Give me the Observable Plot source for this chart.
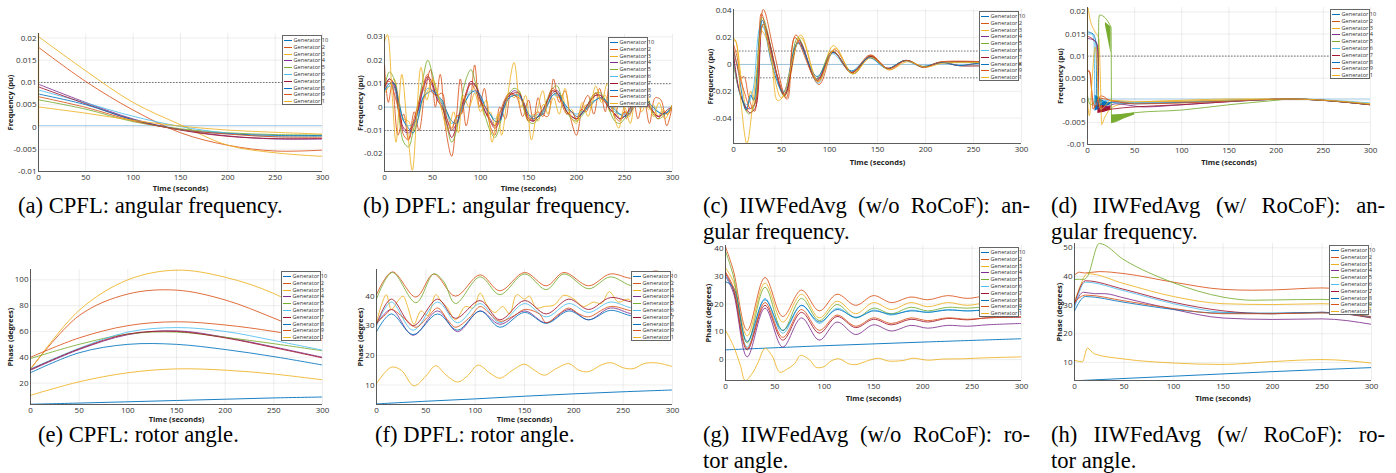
<!DOCTYPE html>
<html><head><meta charset="utf-8">
<script src="https://cdn.jsdelivr.net/npm/d3@7"></script>
<script src="https://cdn.jsdelivr.net/npm/@observablehq/plot@0.6"></script>
<style>
body{margin:0;background:#fff;}
#root{position:relative;width:1396px;height:473px;overflow:hidden;background:#fff;}
.p{position:absolute;}
.cap{position:absolute;font-family:"Liberation Serif","Times New Roman",serif;font-size:22.6px;line-height:22.6px;color:#000;white-space:nowrap;}
.just{text-align:justify;text-align-last:justify;}
.leg{position:absolute;background:#fff;border:0.8px solid #666;box-sizing:border-box;padding:1px 1px 0 1px;font-family:"Open Sans",sans-serif;font-size:5.6px;color:#333;}
.leg div{height:6.8px;line-height:6.8px;white-space:nowrap;}
.leg span.sw{display:inline-block;width:8px;height:0;border-top:1.2px solid;vertical-align:middle;margin-right:1.5px;}
</style></head><body><div id="root"></div>
<script>
// ---------- shared labels ----------
const genLabels = ["Generator 10","Generator 2","Generator 3","Generator 4","Generator 5","Generator 6","Generator 7","Generator 8","Generator 9","Generator 1"];
const genColors = ["#0072BD","#D95319","#EDB120","#7E2F8E","#77AC30","#4DBEEE","#A2142F","#0072BD","#D95319","#EDB120"];
const timeTicks = [0,50,100,150,200,250,300];

// ---------- (a) CPFL angular frequency ----------
const cpflT = [0,50,100,150,200,250,300];
const cpflFreq = [
 [0.0003,0.0003,0.0003,0.0003,0.0003,0.0003,0.0003],
 [0.0179,0.0102,0.0038,-0.0013,-0.0041,-0.0054,-0.0052],
 [0.0203,0.0126,0.0055,0.0005,-0.0041,-0.0058,-0.0066],
 [0.0096,0.0055,0.0018,-0.0006,-0.0020,-0.0027,-0.0027],
 [0.0061,0.0040,0.0012,-0.0004,-0.0013,-0.0017,-0.0018],
 [0.0083,0.0054,0.0024,0.0001,-0.0014,-0.0022,-0.0021],
 [0.0090,0.0052,0.0016,-0.0007,-0.0021,-0.0026,-0.0026],
 [0.0074,0.0050,0.0016,-0.0006,-0.0015,-0.0019,-0.0019],
 [0.0068,0.0044,0.0014,-0.0006,-0.0016,-0.0022,-0.0023],
 [0.0045,0.0031,0.0015,0.0002,-0.0007,-0.0012,-0.0016]
];
const cpflFreqJump = [{g:2, t:0, lo:0, hi:0.021}];
const cpflFreqTicks = [-0.01,-0.005,0,0.005,0.01,0.015,0.02];

// ---------- (b) DPFL angular frequency ----------
const dpflT = [0,5,10,15,20,25,30,35,40,45,50,55,60,65,70,75,80,85,90,95,100,105,110,115,120,125,130,135,140,145,150,155,160,165,170,175,180,185,190,195,200,205,210,215,220,225,230,235,240,245,250,255,260,265,270,275,280,285,290,295,300];
const dpflFreq = [
 [[0,0],[300,0]],
 [[0,0.018],[4,0.002],[8,0.01],[14,-0.012],[20,-0.003],[25,-0.014],[31,-0.002],[36,-0.01],[42,0.006],[48,0.016],[53,0.0],[58,0.014],[64,-0.01],[70,-0.021],[75,-0.004],[79,0.012],[85,-0.008],[90,0.004],[94,0.018],[99,0.0],[104,0.008],[110,-0.008],[115,-0.012],[120,0.0],[126,-0.005],[132,0.006],[138,0.004],[144,-0.004],[150,0.003],[155,-0.006],[160,0.004],[165,-0.003],[170,-0.004],[176,0.012],[182,0.002],[188,0.007],[194,-0.005],[200,-0.012],[206,0.0],[212,0.005],[218,-0.003],[224,0.008],[230,-0.002],[234,0.009],[240,-0.004],[246,0.006],[252,-0.005],[258,0.007],[264,-0.005],[270,0.004],[276,-0.007],[282,0.004],[288,0.003],[294,-0.008],[300,0.001]],
 [0.006,0.009,0.012,0.003,-0.005,-0.006,-0.010,-0.005,0.003,0.007,0.011,0.006,-0.001,-0.002,-0.010,-0.004,-0.003,0.005,0.006,0.010,0.003,-0.004,-0.002,-0.008,-0.002,0.000,0.006,0.004,0.007,-0.001,-0.006,-0.003,-0.006,0.001,0.001,0.007,0.004,0.005,-0.003,-0.001,-0.006,-0.002,0.001,0.000,0.006,0.003,0.005,-0.002,0.000,-0.005,-0.002,-0.004,0.002,0.002,0.005,-0.001,0.001,-0.004,-0.001,-0.003,0.001],
 [0.009,0.012,0.009,-0.002,-0.010,-0.011,-0.008,-0.002,0.007,0.012,0.009,0.004,0.001,-0.005,-0.010,-0.007,-0.001,0.005,0.010,0.009,0.004,-0.002,-0.005,-0.008,-0.005,0.001,0.005,0.007,0.006,0.001,-0.004,-0.006,-0.004,-0.002,0.003,0.006,0.007,0.003,-0.002,-0.004,-0.005,-0.003,0.000,0.003,0.005,0.005,0.003,-0.001,-0.003,-0.005,-0.004,-0.002,0.001,0.004,0.004,0.001,-0.002,-0.004,-0.003,-0.002,0.000],
 [0.008,0.015,0.012,-0.004,-0.015,-0.017,-0.010,0.000,0.012,0.020,0.014,0.005,0.002,-0.008,-0.015,-0.010,0.003,0.012,0.016,0.010,0.003,-0.004,-0.010,-0.013,-0.008,0.002,0.006,0.008,0.007,0.000,-0.006,-0.007,-0.005,-0.002,0.004,0.008,0.009,0.003,-0.002,-0.005,-0.006,-0.004,-0.001,0.004,0.006,0.006,0.003,-0.002,-0.006,-0.007,-0.005,-0.002,0.003,0.006,0.005,0.002,-0.003,-0.005,-0.004,-0.002,0.001],
 [0.007,0.009,0.008,0.001,-0.006,-0.008,-0.007,-0.003,0.004,0.008,0.007,0.004,0.002,-0.003,-0.007,-0.005,-0.001,0.003,0.007,0.006,0.004,0.000,-0.003,-0.005,-0.004,0.001,0.004,0.005,0.005,0.001,-0.003,-0.004,-0.003,-0.002,0.002,0.005,0.005,0.003,-0.001,-0.002,-0.003,-0.002,-0.001,0.002,0.003,0.004,0.003,0.000,-0.002,-0.003,-0.003,-0.002,0.001,0.002,0.003,0.001,-0.001,-0.002,-0.003,-0.002,0.000],
 [0.008,0.012,0.010,0.000,-0.009,-0.010,-0.007,-0.001,0.008,0.013,0.010,0.003,0.000,-0.007,-0.013,-0.008,0.000,0.006,0.011,0.009,0.003,-0.002,-0.006,-0.009,-0.006,0.002,0.005,0.006,0.006,0.001,-0.005,-0.006,-0.004,-0.001,0.003,0.007,0.006,0.002,-0.002,-0.004,-0.005,-0.003,0.000,0.003,0.005,0.005,0.002,-0.001,-0.003,-0.005,-0.004,-0.001,0.002,0.004,0.003,0.001,-0.002,-0.004,-0.003,-0.001,0.000],
 [0.007,0.010,0.010,0.002,-0.006,-0.009,-0.011,-0.005,0.004,0.006,0.007,0.005,0.003,-0.002,-0.006,-0.007,-0.002,0.003,0.006,0.007,0.005,0.000,-0.003,-0.006,-0.006,0.000,0.004,0.005,0.005,0.002,-0.003,-0.005,-0.004,-0.003,0.001,0.005,0.006,0.003,0.000,-0.002,-0.004,-0.003,-0.001,0.001,0.003,0.004,0.003,0.001,-0.001,-0.003,-0.004,-0.003,0.000,0.002,0.003,0.002,0.000,-0.002,-0.003,-0.002,0.000],
 [0.010,0.011,0.006,-0.002,-0.012,-0.014,-0.006,0.001,0.009,0.014,0.006,0.005,0.006,-0.005,-0.009,-0.004,-0.003,0.006,0.010,0.007,0.002,0.000,-0.006,-0.008,-0.003,0.003,0.006,0.005,0.004,0.002,-0.006,-0.004,-0.002,-0.004,0.003,0.008,0.006,0.001,-0.003,-0.002,-0.005,-0.001,-0.002,0.003,0.006,0.004,0.002,0.001,-0.004,-0.006,-0.002,-0.003,0.002,0.005,0.003,0.000,-0.002,-0.005,-0.002,-0.003,0.001],
 [[0,0.028],[3,0.031],[8,0.005],[12,-0.015],[18,0.014],[24,-0.01],[29,-0.027],[34,0.0],[38,0.017],[44,0.003],[50,0.012],[56,0.005],[60,-0.002],[66,-0.01],[72,-0.002],[77,-0.011],[82,0.005],[88,0.0],[94,0.006],[100,-0.002],[106,0.003],[112,-0.015],[118,-0.003],[122,-0.012],[128,0.004],[135,0.019],[142,0.0],[147,0.005],[153,-0.014],[158,-0.004],[165,0.007],[170,-0.003],[176,0.004],[182,-0.003],[188,0.008],[194,-0.004],[200,-0.007],[206,0.002],[212,-0.004],[220,0.009],[226,0.002],[232,0.01],[238,-0.002],[244,-0.009],[250,0.0],[256,-0.007],[262,0.005],[268,-0.002],[274,0.004],[280,-0.004],[286,0.002],[292,-0.005],[300,0.001]]
];
const dpflFreqTicks = [-0.02,-0.01,0,0.01,0.02,0.03];

// ---------- (c) IIWFedAvg w/o RoCoF angular frequency ----------
const fedFreq = [
 [[0,0],[300,0]],
 [[0,0.015],[4,0.005],[8,-0.01],[11,-0.009],[16,-0.025],[22,-0.035],[31,0.041],[42,0.01],[55,-0.025],[65,0.022],[89,-0.015],[105,0.011],[125,-0.007],[143,0.007],[162,-0.004],[180,0.003],[198,-0.002],[217,0.002],[236,-0.001],[256,0.001],[300,0.0005]],
 [[0,0.02],[3,0.016],[8,-0.01],[14,-0.035],[18,-0.02],[22,-0.028],[29,0.025],[38,0.012],[46,-0.027],[55,-0.02],[70,0.022],[88,-0.012],[104,0.014],[124,-0.006],[143,0.006],[161,-0.003],[180,0.003],[198,-0.0015],[217,0.0015],[236,-0.001],[300,0.0005]],
 [[0,0.005],[6,-0.02],[15,-0.033],[22,-0.03],[31,0.03],[53,-0.022],[68,0.018],[87,-0.011],[104,0.009],[123,-0.006],[142,0.006],[160,-0.003],[179,0.003],[197,-0.002],[216,0.0015],[236,-0.001],[300,0.0004]],
 [[0,0.0],[6,-0.02],[16,-0.037],[22,-0.03],[30,0.035],[53,-0.024],[67,0.02],[86,-0.011],[103,0.01],[124,-0.007],[142,0.006],[160,-0.003],[179,0.003],[197,-0.002],[216,0.0015],[300,0.0005]],
 [[0,0.005],[8,-0.025],[14,-0.03],[20,-0.02],[29,0.03],[52,-0.02],[68,0.016],[88,-0.014],[103,0.008],[122,-0.005],[141,0.005],[160,-0.003],[178,0.0025],[197,-0.0015],[216,0.001],[300,0.0003]],
 [[0,0.008],[7,-0.022],[17,-0.036],[23,-0.032],[31,0.03],[53,-0.023],[68,0.017],[87,-0.012],[104,0.009],[123,-0.006],[143,0.006],[161,-0.003],[180,0.003],[198,-0.002],[217,0.0015],[300,0.0005]],
 [[0,0.01],[4,-0.001],[13,-0.034],[18,-0.023],[21,-0.027],[30,0.033],[40,0.0],[52,-0.021],[67,0.016],[87,-0.009],[104,0.009],[123,-0.005],[142,0.005],[160,-0.003],[179,0.003],[197,-0.0015],[216,0.0015],[235,-0.0008],[255,0.0008],[300,0.0003]],
 [[0,0.012],[5,-0.005],[11,-0.02],[18,-0.033],[24,-0.025],[29,0.038],[40,0.005],[56,-0.026],[64,0.02],[88,-0.013],[103,0.01],[123,-0.006],[142,0.007],[161,-0.003],[180,0.003],[198,-0.002],[217,0.002],[300,0.0005]],
 [[0,0.017],[2,0.018],[8,-0.03],[14,-0.059],[20,-0.03],[24,-0.005],[31,0.03],[38,0.008],[50,-0.025],[70,0.02],[88,-0.013],[106,0.012],[124,-0.007],[143,0.005],[162,-0.004],[181,0.002],[200,-0.002],[219,0.001],[300,0.0005]]
];
const fedFreqTicks = [-0.04,-0.02,0,0.02,0.04];

// ---------- (d) IIWFedAvg w/ RoCoF angular frequency ----------
const rocofFreq = [
 [[0,0.0003],[300,0.0003]],
 [[0,0.0065],[2,0.0065],[4,0.003],[6,-0.002],[10,0.0],[15,0.001],[25,-0.0002],[50,-0.0005],[100,-0.0003],[150,0.0],[215,0.0003],[250,0.0],[300,-0.001]],
 [[0,0.0],[0,0.021],[3,0.018],[8,0.0155],[12,0.014],[14,0.002],[15,-0.0055],[18,-0.004],[22,-0.0025],[30,-0.0012],[50,-0.0005],[100,0.0],[150,0.0003],[215,0.0003],[250,0.0],[300,-0.0008]],
 [[0,0.014],[8,0.0135],[11,0.012],[12,-0.002],[20,-0.0015],[30,-0.0008],[60,-0.0015],[100,-0.001],[150,-0.0003],[215,0.0003],[260,-0.0002],[300,-0.001]],
 [[0,0.001],[3,-0.001],[8,0.0],[11,0.001],[12,0.0185],[13,0.0193],[25,0.0165],[25.5,-0.005],[50,-0.0028],[100,-0.0022],[150,-0.001],[200,0.0],[215,0.0003],[250,0.0],[300,-0.001]],
 [[0,0.015],[5,0.015],[7,0.013],[8,-0.001],[20,0.0],[50,-0.0005],[100,-0.0004],[150,0.0],[215,0.0003],[300,-0.0006]],
 [[0,0.0145],[9,0.013],[11,0.011],[12,-0.0025],[25,-0.002],[50,-0.0015],[100,-0.001],[150,-0.0003],[215,0.0003],[300,-0.001]],
 [[0,0.0155],[6,0.015],[9,0.013],[10,-0.002],[14,-0.001],[25,-0.0005],[50,-0.0008],[100,-0.0005],[150,-0.0002],[215,0.0003],[250,0.0],[300,-0.001]],
 [[0,0.007],[3,0.006],[5,0.001],[8,-0.0015],[12,0.0005],[25,0.0],[50,-0.0008],[100,-0.0006],[150,-0.0002],[215,0.0003],[300,-0.001]],
 [[0,0.0],[2,-0.0035],[5,0.005],[8,0.012],[10,0.009],[12,0.0],[14,-0.002],[25,0.0],[50,-0.0003],[100,-0.0002],[215,0.0003],[300,-0.0008]]
];
const rocofFreqBands = [
 {g:7, pts:[[8,-0.0025,0.0012],[12,-0.002,0.0005],[18,-0.0015,-0.0002],[25,-0.001,-0.0006]]},
 {g:6, pts:[[11,-0.003,-0.001],[18,-0.0027,-0.0013],[25,-0.0022,-0.0014]]},
 {g:4, pts:[[25.5,-0.0053,-0.0033],[35,-0.0045,-0.0032],[50,-0.0033,-0.0028]]},
 {g:4, pts:[[19,0.017,0.0176],[25,0.0105,0.0166]]}
];
const rocofFreqTicks = [-0.01,-0.005,0,0.005,0.01,0.015,0.02];

// ---------- (e) CPFL rotor angle ----------
const cpflAngle = [
 [3.6,4.5,5.5,6.5,7.5,8.5,9.2],
 [31,72.3,89,92,84.4,70.3,54.2],
 [30.5,76.4,100,107.5,102,89.4,68.5],
 [30,46,57.5,60.5,55.5,48,40],
 [39,50,58,59.5,55.5,50.5,45],
 [31,47,59.5,63,60,53,45.5],
 [30.5,46.5,58,60,55,47.5,39.5],
 [28,43.5,50,50,46,40.5,34],
 [40,55,64.5,67.5,65,60,53],
 [10.5,21,28,31,30,27,22.5]
];
const cpflAngleTicks = [20,40,60,80,100];

// ---------- (f) DPFL rotor angle ----------
const dpflAngle = [
 [[0,3.6],[50,4.5],[100,5.3],[150,6.2],[200,7],[250,7.7],[300,8.3]],
 [[0,40.5],[16,48.2],[40,39.7],[58,47.5],[80,40],[105,47.2],[125,41.8],[150,48],[172,43.5],[190,48],[215,43.5],[237,47.5],[260,46],[283,48.5],[300,46.5]],
 [[0,31],[5,37],[10,40.5],[15,35.5],[22,38.5],[27,40],[32,36],[38,30.5],[45,35],[52,33.5],[60,40.5],[66,38],[72,36],[80,32],[90,36.5],[98,36],[105,41],[112,37],[120,34.5],[128,36.5],[135,34],[142,40.5],[150,39],[155,40],[162,36],[170,36.5],[180,37],[190,40.3],[200,39],[210,36.5],[220,38],[228,37.5],[236,41.5],[245,38],[255,39],[265,36.5],[280,38],[290,38.5],[300,38]],
 [[0,30.5],[15,35.5],[37,26.8],[62,35],[82,28],[105,35],[125,30.5],[150,35],[172,31],[195,35.5],[215,32],[237,36],[260,34],[283,35],[300,34]],
 [[0,39],[16,48],[40,37.8],[58,47.5],[68,45],[80,37.5],[105,46.5],[125,40.5],[150,47.5],[172,42.2],[190,47.5],[215,42.5],[237,46.5],[260,43.5],[283,46.5],[300,45]],
 [[0,30],[15,38],[37,28.5],[62,38],[82,31],[105,37.5],[125,31],[150,37.5],[172,33],[195,37.5],[215,34.5],[237,38],[260,36],[283,37],[300,36]],
 [[0,30.5],[15,39],[37,30],[62,39],[80,32.5],[105,38.5],[125,32],[150,38.5],[172,34],[195,39],[215,35.5],[237,39.5],[260,38],[283,38.5],[300,37]],
 [[0,28],[15,34],[37,27],[62,34],[82,28.5],[105,35],[125,29.5],[150,34.5],[172,30.8],[195,35],[215,32],[237,35.2],[260,33.3],[283,34.5],[300,33.7]],
 [[0,31],[10,34],[15,35.5],[30,32],[40,29.5],[52,33],[62,36],[72,32],[80,29.5],[95,33],[105,36.5],[115,34],[125,31.5],[140,33.5],[150,35.5],[165,34],[172,31],[185,34],[195,36],[205,34],[215,33],[237,36.5],[260,35],[283,35.5],[300,34]],
 [[0,10.5],[15,16],[25,15],[38,9.7],[50,13],[60,16.5],[70,13.5],[82,11],[92,13],[103,16.7],[115,14],[125,12.3],[138,15],[150,17],[160,15],[170,13.3],[182,15.5],[195,17.2],[205,15],[215,14.5],[228,16.8],[238,17.5],[250,15.8],[260,15.5],[272,17.3],[285,17.4],[300,16.2]]
];
const dpflAngleTicks = [10,20,30,40];

// ---------- (g) IIWFedAvg w/o RoCoF rotor angle ----------
const fedAngle = [
 [[0,3.5],[100,5],[200,6.3],[300,7.5]],
 [[0,40.5],[8,32],[22,10.5],[40,29.5],[58,15.5],[77,25],[95,17.5],[113,23.5],[132,19.5],[150,23],[168,20.5],[188,22.5],[205,21.5],[225,23],[245,22],[265,23],[300,23.5]],
 [[0,33],[8,28],[22,8.5],[40,27.5],[58,13.5],[77,23.5],[95,15],[113,21],[132,16.5],[150,20.5],[168,18],[188,20.5],[205,19],[225,20.5],[245,19.5],[265,20.5],[300,21]],
 [[0,30],[8,24],[22,1],[40,18.5],[58,4.5],[77,15],[95,7],[113,13.5],[132,9],[150,12.5],[168,10.3],[188,12.3],[205,11.3],[225,12.3],[245,12],[265,12.5],[300,13]],
 [[0,39],[8,30],[22,6],[40,26],[58,10.5],[77,22],[95,14],[113,19.8],[132,15],[150,18.5],[168,16.5],[188,18.8],[205,17.5],[225,18.8],[245,18.5],[265,19],[300,19]],
 [[0,30],[8,25],[22,4.5],[40,22],[58,9.5],[77,19.5],[95,13],[113,18.5],[132,15],[150,17.8],[168,16],[188,17.8],[205,17],[225,18],[245,17.5],[265,18],[300,18]],
 [[0,31],[8,25],[22,3.5],[40,19.5],[58,7],[77,17],[95,9.5],[113,15.5],[132,11.5],[150,14.5],[168,12.5],[188,14.5],[205,13.5],[225,14.8],[245,14.3],[265,15],[300,15.2]],
 [[0,28],[8,26],[22,6.5],[40,21.5],[58,10.5],[77,19.5],[95,13.5],[113,18],[132,15.2],[150,17.5],[168,16.3],[188,17.5],[205,17],[225,17.8],[245,17.5],[265,17.8],[300,18]],
 [[0,31.5],[8,26],[22,4],[40,20.5],[58,8],[77,18],[95,10.5],[113,16],[132,12],[150,15],[168,13],[188,15],[205,14],[225,15],[245,14.5],[265,15],[300,15.5]],
 [[0,10.5],[8,5],[15,-2],[20,-7.5],[27,-5],[33,-1],[40,4],[47,1.5],[55,-4.5],[62,-3.5],[70,-1.5],[76,1.5],[85,0],[92,-2.8],[100,-2.5],[107,-0.5],[115,0.3],[125,-1.5],[132,-1.8],[145,-0.3],[155,0.5],[165,-0.5],[180,-0.3],[190,0.5],[205,-0.2],[220,0.2],[240,0.3],[260,0.6],[280,0.8],[300,1]]
];
const fedAngleTicks = [0,10,20,30,40];

// ---------- (h) IIWFedAvg w/ RoCoF rotor angle ----------
const rocofAngle = [
 [[0,3.6],[100,5.2],[200,6.8],[300,8.2]],
 [[0,40.5],[5,41.5],[10,41.2],[25,41.7],[50,41],[100,38],[150,35.5],[180,35.2],[200,35.3],[250,36],[300,34.3]],
 [[0,31],[5,36],[13,41],[50,37.5],[100,33],[150,30.5],[200,30.2],[250,30.5],[300,29]],
 [[0,30],[9,34.5],[20,34],[30,34],[50,32.5],[100,28.5],[150,25.5],[200,25],[250,25.2],[300,23.3]],
 [[0,39],[10,39],[13,40],[25,51.5],[50,45.8],[100,37.8],[150,32.8],[180,31.7],[200,31.8],[250,32],[300,30.2]],
 [[0,29],[11,38],[50,35],[100,30.5],[150,27.5],[200,27],[250,27.3],[300,26]],
 [[0,30.5],[11,38.5],[50,35.5],[100,31],[150,28],[200,27],[250,27.5],[300,25.5]],
 [[0,28],[11,33],[50,31],[100,28.5],[150,27.2],[200,27.2],[250,27.5],[300,25.8]],
 [[0,31],[11,33.5],[50,31.5],[100,28.8],[150,27],[200,27],[250,27.3],[300,26]],
 [[0,10.8],[5,10.3],[8,10.2],[13,15],[20,13],[50,11.2],[100,9.8],[150,9.3],[200,10.3],[250,11],[300,9.8]]
];
const rocofAngleTicks = [10,20,30,40,50];

// ---------- helpers ----------
function toRows(series, times) {
  const rows = [];
  series.forEach((s, i) => {
    s.forEach((p, j) => {
      if (Array.isArray(p)) rows.push({g: i, t: p[0], v: p[1]});
      else if (times && j < times.length) rows.push({g: i, t: times[j], v: p});
    });
  });
  return rows;
}
function bandRows(bands) {
  const rows = [];
  (bands || []).forEach((b, k) => b.pts.forEach(p => rows.push({id: k, g: b.g, t: p[0], lo: p[1], hi: p[2]})));
  return rows;
}
const fmt = d => String(d);
const FONT = "'Open Sans', 'DejaVu Sans', sans-serif";

function panel(cfg) {
  const rows = toRows(cfg.series, cfg.times);
  const ref = rows.filter(d => d.g === 0);
  const rest = rows.filter(d => d.g !== 0);
  const marks = [
    Plot.gridX(timeTicks, {stroke: "#000", strokeOpacity: 0.09, strokeWidth: 0.8}),
    Plot.gridY(cfg.ticks, {stroke: "#000", strokeOpacity: 0.09, strokeWidth: 0.8}),
    Plot.ruleY(cfg.refs || [], {stroke: "#555", strokeDasharray: "1.6,1.4", strokeWidth: 0.8}),
  ];
  if (cfg.bands) marks.push(Plot.areaY(bandRows(cfg.bands), {x: "t", y1: "lo", y2: "hi", z: "id", fill: d => genColors[d.g], curve: "linear", clip: true}));
  marks.push(Plot.line(ref, {x: "t", y: "v", z: "g", stroke: d => genColors[d.g], strokeOpacity: cfg.faded ? 0.4 : 1, strokeWidth: 0.9, curve: cfg.curve, clip: true}));
  marks.push(Plot.line(rest, {x: "t", y: "v", z: "g", stroke: d => genColors[d.g], strokeWidth: 0.85, curve: cfg.curve, clip: true}));
  if (cfg.jump) marks.push(Plot.ruleX(cfg.jump, {x: "t", y1: "lo", y2: "hi", stroke: d => genColors[d.g], strokeWidth: 1.2}));
  marks.push(
    Plot.ruleX([0], {stroke: "#333", strokeWidth: 0.8}),
    Plot.ruleY([cfg.domain[0]], {stroke: "#333", strokeWidth: 0.8}),
    Plot.axisX({ticks: timeTicks, tickSize: 0, tickPadding: 3, label: null, tickFormat: fmt, fontSize: 8, fill: "#333"}),
    Plot.axisY({ticks: cfg.ticks, tickSize: 0, tickPadding: 2, label: null, tickFormat: fmt, fontSize: 8, fill: "#333"}),
    Plot.text(["Time (seconds)"], {frameAnchor: "bottom", dy: cfg.xDy, fontWeight: "bold", fontSize: 7.5, lineAnchor: "middle", textAnchor: "middle", fill: "#222"}),
    Plot.text([cfg.ylabel], {frameAnchor: "left", dx: cfg.yDx, rotate: -90, fontWeight: "bold", fontSize: 7.5, lineAnchor: "middle", textAnchor: "middle", fill: "#222"})
  );
  const svg = Plot.plot({
    width: cfg.w, height: cfg.h,
    marginLeft: cfg.m[0], marginRight: cfg.m[1], marginTop: cfg.m[2], marginBottom: cfg.m[3],
    x: {domain: [0, 300]},
    y: {domain: cfg.domain},
    color: {type: "identity"},
    style: {fontFamily: FONT, fontSize: "8px", background: "transparent", overflow: "visible", color: "#333"},
    marks
  });
  const wrap = document.createElement("div");
  wrap.className = "p";
  wrap.style.left = cfg.left + "px";
  wrap.style.top = cfg.top + "px";
  wrap.appendChild(svg);
  root.appendChild(wrap);
  const leg = document.createElement("div");
  leg.className = "leg";
  leg.style.left = cfg.leg[0] + "px";
  leg.style.top = cfg.leg[1] + "px";
  leg.style.width = "40px";
  leg.style.height = "70px";
  genLabels.forEach((lab, i) => {
    const r = document.createElement("div");
    const sw = document.createElement("span");
    sw.className = "sw";
    sw.style.borderTopColor = genColors[i];
    r.appendChild(sw);
    r.appendChild(document.createTextNode(lab));
    leg.appendChild(r);
  });
  root.appendChild(leg);
}

function caption(text, left, top, width) {
  const d = document.createElement("div");
  d.className = "cap" + (width ? " just" : "");
  d.style.left = left + "px";
  d.style.top = top + "px";
  if (width) d.style.width = width + "px";
  d.textContent = text;
  root.appendChild(d);
}

const root = document.getElementById("root");

panel({left: 0, top: 0, w: 340, h: 195, m: [38, 18, 33, 24], domain: [-0.01, 0.021], ticks: cpflFreqTicks, refs: [0.01],
  series: cpflFreq, times: cpflT, curve: "catmull-rom", faded: true, jump: cpflFreqJump, ylabel: "Frequency (pu)", xDy: 17, yDx: -28, leg: [282, 35]});
panel({left: 345, top: 0, w: 345, h: 195, m: [39, 18, 34, 24], domain: [-0.0275, 0.031], ticks: dpflFreqTicks, refs: [0.01, -0.01],
  series: dpflFreq, times: dpflT, curve: "catmull-rom", faded: true, ylabel: "Frequency (pu)", xDy: 17, yDx: -24, leg: [608, 37]});
panel({left: 690, top: 0, w: 345, h: 170, m: [43, 14, 9, 27], domain: [-0.059, 0.041], ticks: fedFreqTicks, refs: [0.01, -0.01],
  series: fedFreq, curve: "catmull-rom", faded: true, ylabel: "Frequency (pu)", xDy: 19, yDx: -23, leg: [979, 11]});
panel({left: 1035, top: 0, w: 361, h: 170, m: [52, 26, 7, 26], domain: [-0.01, 0.021], ticks: rocofFreqTicks, refs: [0.01],
  series: rocofFreq, bands: rocofFreqBands, curve: "monotone-x", faded: true, ylabel: "Frequency (pu)", xDy: 18, yDx: -27, leg: [1330, 9]});
panel({left: 0, top: 240, w: 340, h: 195, m: [30, 18, 29, 31], domain: [3.4, 108], ticks: cpflAngleTicks,
  series: cpflAngle, times: cpflT, curve: "catmull-rom", ylabel: "Phase (degrees)", xDy: 15, yDx: -20, leg: [281, 271]});
panel({left: 345, top: 240, w: 345, h: 195, m: [31, 18, 29, 31], domain: [3.4, 49], ticks: dpflAngleTicks,
  series: dpflAngle, curve: "catmull-rom", ylabel: "Phase (degrees)", xDy: 15, yDx: -16, leg: [631, 271]});
panel({left: 690, top: 240, w: 345, h: 170, m: [35, 14, 5, 30], domain: [-7.5, 41], ticks: fedAngleTicks,
  series: fedAngle, curve: "catmull-rom", ylabel: "Phase (degrees)", xDy: 18, yDx: -17, leg: [979, 247]});
panel({left: 1035, top: 240, w: 361, h: 170, m: [39, 25, 3, 30], domain: [3.7, 51.5], ticks: rocofAngleTicks,
  series: rocofAngle, curve: "monotone-x", ylabel: "Phase (degrees)", xDy: 18, yDx: -15, leg: [1329, 245]});

caption("(a) CPFL: angular frequency.", 18, 195);
caption("(b) DPFL: angular frequency.", 363, 195);
caption("(c) IIWFedAvg (w/o RoCoF): an-", 703, 195, 327);
caption("gular frequency.", 703, 221);
caption("(d) IIWFedAvg (w/ RoCoF): an-", 1051, 195, 334);
caption("gular frequency.", 1051, 221);
caption("(e) CPFL: rotor angle.", 38, 424);
caption("(f) DPFL: rotor angle.", 375, 424);
caption("(g) IIWFedAvg (w/o RoCoF): ro-", 703, 424, 327);
caption("tor angle.", 703, 450);
caption("(h) IIWFedAvg (w/ RoCoF): ro-", 1051, 424, 334);
caption("tor angle.", 1051, 450);
</script></body></html>
